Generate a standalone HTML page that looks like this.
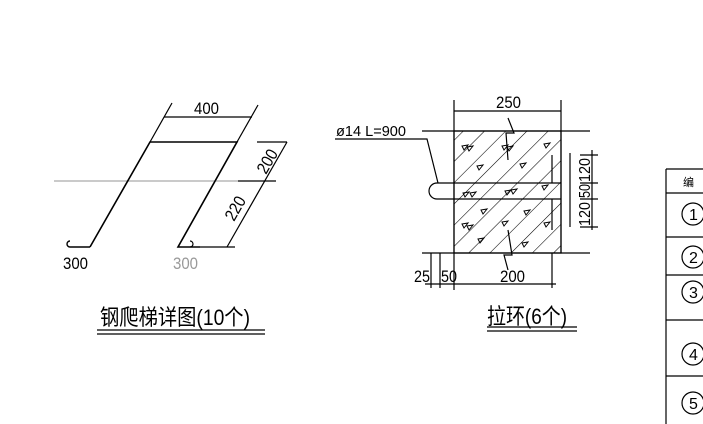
<!DOCTYPE html>
<html><head><meta charset="utf-8"><style>
html,body{margin:0;padding:0;background:#fff;width:703px;height:424px;overflow:hidden}
svg{display:block}
text{font-family:"Liberation Sans","Noto Sans CJK SC",sans-serif;fill:#000}
</style></head><body>
<svg width="703" height="424" viewBox="0 0 703 424" xmlns="http://www.w3.org/2000/svg">
<defs>
<pattern id="h" patternUnits="userSpaceOnUse" width="15" height="15" patternTransform="rotate(45)">
<line x1="0" y1="0" x2="0" y2="15" stroke="#000" stroke-width="1.1"/>
</pattern>
<path id="t" d="M0,0 L6,-1 L2,4 Z" fill="none" stroke="#000" stroke-width="1"/>
</defs>
<g stroke="#000" fill="none" stroke-width="1.2">
<line x1="54" y1="181" x2="238" y2="181" stroke="#aaa"/>
<line x1="238" y1="181" x2="276" y2="181"/>
<polyline points="90,247 150,142 237,142 178,247 200,247" stroke-width="1.6"/>
<path d="M90,247 H70 A3,3 0 0 1 70,241" stroke-width="1.4"/>
<path d="M190,247 A3,3 0 0 0 190,241" stroke-width="1.2"/>
<line x1="150" y1="142" x2="172" y2="103"/>
<line x1="237" y1="142" x2="258" y2="105"/>
<line x1="164" y1="117" x2="252" y2="117"/>
<line x1="257" y1="142" x2="287" y2="142"/>
<line x1="200" y1="247" x2="235" y2="247"/>
<line x1="287" y1="142" x2="227" y2="247"/>
<line x1="97" y1="330" x2="265" y2="330"/>
<line x1="97" y1="334" x2="265" y2="334"/>
<line x1="422" y1="131" x2="590" y2="131"/>
<line x1="422" y1="253" x2="590" y2="253"/>
<line x1="454" y1="100" x2="454" y2="290"/>
<line x1="561" y1="100" x2="561" y2="253"/>
<line x1="454" y1="111" x2="561" y2="111"/>
<rect x="454" y="131" width="107" height="122" fill="url(#h)" stroke="#000"/>
<line x1="552" y1="155" x2="552" y2="183"/>
<line x1="552" y1="199" x2="552" y2="230"/>
<path d="M561,183 H437 A8,8 0 0 0 437,199 H561"/>
<polyline points="335,139 427,139 438,183"/>
<path d="M508,118 L514,133 L506,133 L508,160" />
<path d="M508,270 L504,255 L512,255 L508,230" />
<line x1="570" y1="153" x2="570" y2="227"/>
<line x1="592" y1="150" x2="592" y2="230"/>
<line x1="580" y1="155" x2="598" y2="155"/>
<line x1="580" y1="183" x2="598" y2="183"/>
<line x1="580" y1="199" x2="598" y2="199"/>
<line x1="580" y1="227" x2="598" y2="227"/>
<line x1="431" y1="253" x2="431" y2="288"/>
<line x1="440" y1="253" x2="440" y2="288"/>
<line x1="552" y1="253" x2="552" y2="288"/>
<line x1="425" y1="284" x2="556" y2="284"/>
<line x1="487" y1="327" x2="577" y2="327"/>
<line x1="487" y1="331" x2="577" y2="331"/>
<line x1="666" y1="169" x2="666" y2="424"/>
<line x1="666" y1="169" x2="703" y2="169"/>
<line x1="666" y1="193" x2="703" y2="193"/>
<line x1="666" y1="237" x2="703" y2="237"/>
<line x1="666" y1="275" x2="703" y2="275"/>
<line x1="666" y1="320" x2="703" y2="320"/>
<line x1="666" y1="376" x2="703" y2="376"/>
<circle cx="693" cy="214" r="11"/>
<circle cx="693" cy="257" r="11"/>
<circle cx="693" cy="292" r="11"/>
<circle cx="693" cy="354" r="11"/>
<circle cx="693" cy="403" r="11"/>
</g>
<use href="#t" x="462" y="146"/><use href="#t" x="467" y="147"/>
<use href="#t" x="502" y="146"/><use href="#t" x="507" y="147"/>
<use href="#t" x="544" y="144"/><use href="#t" x="477" y="166"/>
<use href="#t" x="520" y="164"/><use href="#t" x="463" y="193"/>
<use href="#t" x="470" y="193"/><use href="#t" x="505" y="191"/>
<use href="#t" x="511" y="190"/><use href="#t" x="542" y="186"/>
<use href="#t" x="481" y="210"/><use href="#t" x="524" y="211"/>
<use href="#t" x="462" y="224"/><use href="#t" x="467" y="226"/>
<use href="#t" x="502" y="222"/><use href="#t" x="544" y="223"/>
<use href="#t" x="478" y="239"/><use href="#t" x="522" y="243"/>
<g font-size="17">
<text x="194" y="114" textLength="25" lengthAdjust="spacingAndGlyphs">400</text>
<text x="0" y="0" transform="translate(266,175) rotate(-60)" textLength="25" lengthAdjust="spacingAndGlyphs">200</text>
<text x="0" y="0" transform="translate(234,222) rotate(-60)" textLength="25" lengthAdjust="spacingAndGlyphs">220</text>
<text x="63" y="269" textLength="25" lengthAdjust="spacingAndGlyphs">300</text>
<text x="173" y="269" style="fill:#999" textLength="25" lengthAdjust="spacingAndGlyphs">300</text>
<text x="100" y="325" font-size="22" textLength="150" lengthAdjust="spacingAndGlyphs">钢爬梯详图(10个)</text>
<text x="496" y="108" textLength="25" lengthAdjust="spacingAndGlyphs">250</text>
<text x="336" y="136" font-size="15" textLength="70" lengthAdjust="spacingAndGlyphs">ø14 L=900</text>
<text x="0" y="0" transform="translate(590,182) rotate(-90)" font-size="16" textLength="24" lengthAdjust="spacingAndGlyphs">120</text>
<text x="0" y="0" transform="translate(590,198) rotate(-90)" font-size="16" textLength="14" lengthAdjust="spacingAndGlyphs">50</text>
<text x="0" y="0" transform="translate(590,226) rotate(-90)" font-size="16" textLength="24" lengthAdjust="spacingAndGlyphs">120</text>
<text x="414" y="282" textLength="16" lengthAdjust="spacingAndGlyphs">25</text>
<text x="441" y="282" textLength="16" lengthAdjust="spacingAndGlyphs">50</text>
<text x="500" y="282" textLength="25" lengthAdjust="spacingAndGlyphs">200</text>
<text x="487" y="324" font-size="22" textLength="80" lengthAdjust="spacingAndGlyphs">拉环(6个)</text>
<text x="683" y="186" font-size="11">编</text>
<text x="689" y="220" font-size="16">1</text>
<text x="689" y="263" font-size="16">2</text>
<text x="689" y="298" font-size="16">3</text>
<text x="689" y="360" font-size="16">4</text>
<text x="689" y="409" font-size="16">5</text>
</g>
</svg>
</body></html>
